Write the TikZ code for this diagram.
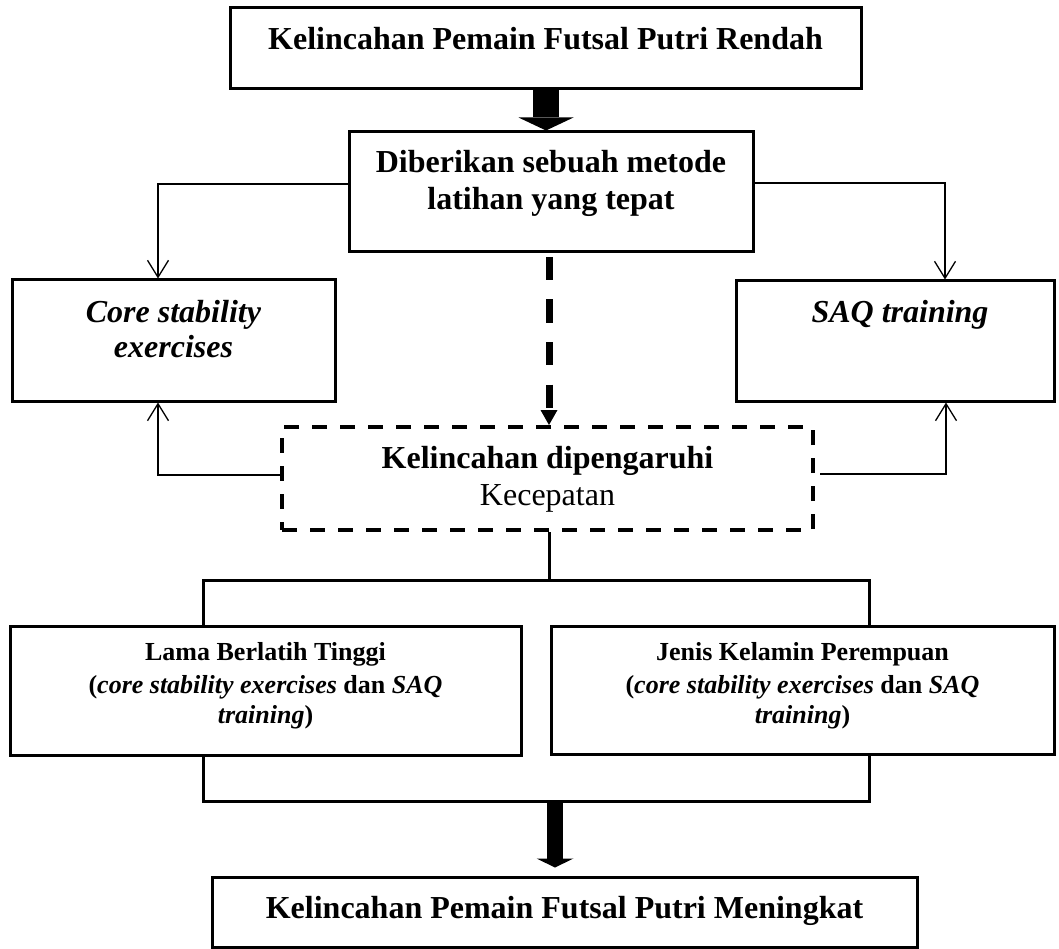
\documentclass[tikz,border=0pt]{standalone}
\usepackage{fontspec}
\setmainfont{Liberation Serif}
\usetikzlibrary{arrows.meta,calc}
\begin{document}
\begin{tikzpicture}[x=1pt,y=-1pt,
  box/.style={draw, line width=3pt, rectangle, inner sep=0pt},
  dbox/.style={draw, line width=4pt, dash pattern=on 15pt off 13pt, rectangle, inner sep=0pt},
  big/.style={font=\fontsize{32}{37}\selectfont, anchor=base, inner sep=0pt},
  small/.style={font=\fontsize{26}{31}\selectfont, anchor=base, inner sep=0pt},
  thinline/.style={line width=1.3pt, line join=miter},
  barb/.style={-{Straight Barb[length=17pt,width=21pt]}},
  link/.style={line width=3pt, line join=miter},
]
\useasboundingbox (0,0) rectangle (1059,949);

% boxes
\node[box, minimum width=631pt, minimum height=81pt]  (top)    at (545.5,48.5) {};
\node[box, minimum width=404pt, minimum height=120pt] (method) at (551,192) {};
\node[box, minimum width=323pt, minimum height=121pt] (core)   at (173.5,340.5) {};
\node[box, minimum width=318pt, minimum height=120pt] (saq)    at (895,341) {};
\node[dbox, minimum width=531pt, minimum height=103pt] (factor) at (547.5,478.5) {};
\node[box, minimum width=511pt, minimum height=129pt] (lama)   at (265.5,690.5) {};
\node[box, minimum width=503pt, minimum height=128pt] (jenis)  at (802.5,690) {};
\node[box, minimum width=705pt, minimum height=70pt]  (result) at (564.5,912) {};

% texts
\node[big] (ttop) at (545.5,50) {\textbf{Kelincahan Pemain Futsal Putri Rendah}};
\node[big] (tm1) at (551,173) {\textbf{Diberikan sebuah metode}};
\node[big] (tm2) at (551,210) {\textbf{latihan yang tepat}};
\node[big] (tc1) at (173.5,322) {\textbf{\textit{Core stability}}};
\node[big] (tc2) at (173.5,357) {\textbf{\textit{exercises}}};
\node[big] (ts1) at (900,322) {\textbf{\textit{SAQ training}}};
\node[big] (tf1) at (547.5,468) {\textbf{Kelincahan dipengaruhi}};
\node[big] (tf2) at (547.5,505) {Kecepatan};
\node[small] (tl1) at (265.5,660) {\textbf{Lama Berlatih Tinggi}};
\node[small] (tl2) at (265.5,693) {\textbf{(\textit{core stability exercises} dan \textit{SAQ}}};
\node[small] (tl3) at (265.5,723) {\textbf{\textit{training})}};
\node[small] (tj1) at (802.5,660) {\textbf{Jenis Kelamin Perempuan}};
\node[small] (tj2) at (802.5,693) {\textbf{(\textit{core stability exercises} dan \textit{SAQ}}};
\node[small] (tj3) at (802.5,723) {\textbf{\textit{training})}};
\node[big] (tres) at (564.5,918) {\textbf{Kelincahan Pemain Futsal Putri Meningkat}};

% guide points of the connectors
\coordinate (xa) at (546,0);
\coordinate (xc) at (549,0);
\coordinate (xb) at (555,0);
\coordinate (lc) at (158,184);
\coordinate (rc) at (945,183);
\coordinate (lu) at (158,475);
\coordinate (ru) at (946,474);
\coordinate (tl) at (203,580);
\coordinate (tr) at (869,580);
\coordinate (bl) at (203,801);
\coordinate (br) at (869,801);

% block arrow from the problem to the method
\draw[line width=26pt, -{Triangle[length=13pt,width=55pt,line width=0pt]}]
  (xa |- top.south) -- (xa |- method.north);

% method branches to both training types
\draw[thinline, barb] (method.west |- lc) -- (lc) -- (lc |- core.north);
\draw[thinline, barb] (method.east |- rc) -- (rc) -- (rc |- saq.north);

% dashed arrow to the influencing factor
\draw[line width=7pt, dash pattern=on 23pt off 19.5pt, shorten <=3.5pt,
  -{Triangle[length=15pt,width=17pt,line width=0pt]}]
  (xc |- method.south) -- (xc |- factor.north);

% factor feeds back to both training types
\draw[thinline, barb] (factor.west |- lu) -- (lu) -- (lu |- core.south);
\draw[thinline, barb, shorten <=5pt] (factor.east |- ru) -- (ru) -- (ru |- saq.south);

% split into the two conditions
\draw[link] (xc |- factor.south) -- (xc |- tl);
\draw[link] (tl |- lama.north) -- (tl) -- (tr) -- (tr |- jenis.north);

% join of the two conditions
\draw[link] (bl |- lama.south) -- (bl) -- (br) -- (br |- jenis.south);

% block arrow to the outcome
\draw[line width=16pt, shorten >=8pt, -{Triangle[length=9pt,width=37pt,line width=0pt]}]
  (xb |- bl) -- (xb |- result.north);
\end{tikzpicture}
\end{document}
